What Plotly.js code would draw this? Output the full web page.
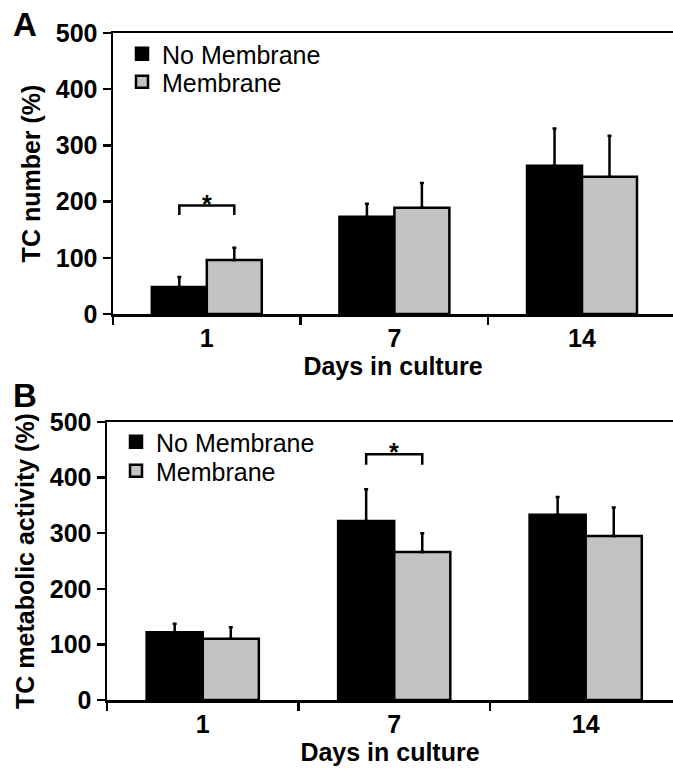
<!DOCTYPE html>
<html>
<head>
<meta charset="utf-8">
<script src="https://cdn.plot.ly/plotly-3.0.1.min.js"></script>
<style>html,body{margin:0;padding:0;background:#fff;}#chart{width:673px;height:770px;}</style>
</head>
<body>
<div id="chart"></div>
<script>
// ---- data ----
const categories = ['1', '7', '14'];
const seriesNames = ['No Membrane', 'Membrane'];

// Panel A: TC number (%)
const numNoMembrane = [48, 173, 264];
const numNoMembraneErr = [18, 23, 66];
const numMembrane = [96, 189, 244];
const numMembraneErr = [22, 44, 73];

// Panel B: TC metabolic activity (%)
const actNoMembrane = [122, 322, 333];
const actNoMembraneErr = [15, 57, 32];
const actMembrane = [110, 266, 295];
const actMembraneErr = [21, 34, 51];

const yTicks = [0, 100, 200, 300, 400, 500];

// significance brackets: category, bracket top value, drop of the bracket legs
const sigA = {cat: '1', top: 193, drop: 17};
const sigB = {cat: '7', top: 442, drop: 19};

// ---- styles ----
const colNo = '#000000';
const colMem = '#c3c3c3';
const bargap = 0.414;
const FONT = 'Liberation Sans, Arial, sans-serif';

function barTrace(y, err, name, color, xa, ya, leg) {
  return {
    type: 'bar', x: categories, y: y, name: name,
    xaxis: xa, yaxis: ya, legend: leg,
    marker: {color: color, line: {color: '#000', width: 2.5}},
    error_y: {type: 'data', array: err, arrayminus: err.map(() => 0), symmetric: false,
              color: '#000', thickness: 2.5, width: 2},
    hoverinfo: 'skip'
  };
}

const traces = [
  barTrace(numNoMembrane, numNoMembraneErr, seriesNames[0], colNo, 'x', 'y', 'legend'),
  barTrace(numMembrane, numMembraneErr, seriesNames[1], colMem, 'x', 'y', 'legend2'),
  barTrace(actNoMembrane, actNoMembraneErr, seriesNames[0], colNo, 'x2', 'y2', 'legend3'),
  barTrace(actMembrane, actMembraneErr, seriesNames[1], colMem, 'x2', 'y2', 'legend4')
];

function xAxis(domain, range) {
  return {
    type: 'category', categoryorder: 'array', categoryarray: categories,
    domain: domain, range: range,
    showline: true, linecolor: '#000', linewidth: 2.5, mirror: true,
    ticks: 'outside', tickson: 'boundaries', ticklen: 8, tickwidth: 2.5, tickcolor: '#000',
    tickfont: {family: FONT, size: 25, color: '#000', weight: 'bold'},
    showgrid: false, zeroline: false, fixedrange: true,
    title: {text: '<b>Days in culture</b>', font: {family: FONT, size: 25, color: '#000'}, standoff: 7}
  };
}
function yAxis(domain, title) {
  return {
    domain: domain, range: [0, 500], tickvals: yTicks,
    showline: true, linecolor: '#000', linewidth: 2.5,
    ticks: 'outside', ticklen: 8, tickwidth: 2.5, tickcolor: '#000',
    tickfont: {family: FONT, size: 25, color: '#000', weight: 'bold'},
    showgrid: false, zeroline: false, fixedrange: true,
    title: {text: '<b>' + title + '</b>', font: {family: FONT, size: 25, color: '#000'}, standoff: 8}
  };
}

const W = 673, H = 770;
const xa = xAxis([113 / W, 1], [-0.5, 2.485]); xa.anchor = 'y';
const xb = xAxis([107 / W, 1], [-0.5, 2.456]); xb.anchor = 'y2';
const ya = yAxis([1 - 314 / H, 1 - 33 / H], 'TC number (%)'); ya.anchor = 'x';
const yb = yAxis([1 - 700 / H, 1 - 422 / H], 'TC metabolic activity (%)'); yb.anchor = 'x2';

function legendAt(px, py) {
  return {x: px / W, y: 1 - py / H, xanchor: 'left', yanchor: 'middle',
          font: {family: FONT, size: 25, color: '#000'}, bgcolor: 'rgba(0,0,0,0)',
          borderwidth: 0, itemwidth: 30, itemclick: false, itemdoubleclick: false};
}

// bracket shapes (x in category index units: bar centres at idx -/+ offset)
const off = (1 - bargap) / 4;
function bracket(sig, xref, yref) {
  const i = categories.indexOf(sig.cat);
  const x0 = i - off, x1 = i + off, yt = sig.top, yb2 = sig.top - sig.drop;
  return {type: 'path', xref: xref, yref: yref,
          path: `M ${x0} ${yb2} L ${x0} ${yt} L ${x1} ${yt} L ${x1} ${yb2}`,
          line: {color: '#000', width: 2.5}};
}
function star(sig, xref, yref) {
  return {xref: xref, yref: yref, x: categories.indexOf(sig.cat), y: sig.top,
          yanchor: 'bottom', text: '<b>*</b>', showarrow: false, yshift: -14,
          font: {family: FONT, size: 25, color: '#000'}};
}

const layout = {
  width: W, height: H, margin: {l: 0, r: 0, t: 0, b: 0},
  paper_bgcolor: '#fff', plot_bgcolor: 'rgba(0,0,0,0)',
  barmode: 'group', bargap: bargap, bargroupgap: 0,
  showlegend: true,
  xaxis: xa, yaxis: ya, xaxis2: xb, yaxis2: yb,
  legend: legendAt(122, 54), legend2: legendAt(122, 82),
  legend3: legendAt(116, 442), legend4: legendAt(116, 471),
  shapes: [bracket(sigA, 'x', 'y'), bracket(sigB, 'x2', 'y2')],
  annotations: [
    star(sigA, 'x', 'y'), star(sigB, 'x2', 'y2'),
    {xref: 'paper', yref: 'paper', x: 25 / W, y: 1 - 25 / H, xanchor: 'center', yanchor: 'middle',
     text: '<b>A</b>', showarrow: false, font: {family: FONT, size: 33, color: '#000'}},
    {xref: 'paper', yref: 'paper', x: 25 / W, y: 1 - 395 / H, xanchor: 'center', yanchor: 'middle',
     text: '<b>B</b>', showarrow: false, font: {family: FONT, size: 33, color: '#000'}}
  ]
};

Plotly.newPlot('chart', traces, layout, {staticPlot: true, displayModeBar: false});
</script>
</body>
</html>
